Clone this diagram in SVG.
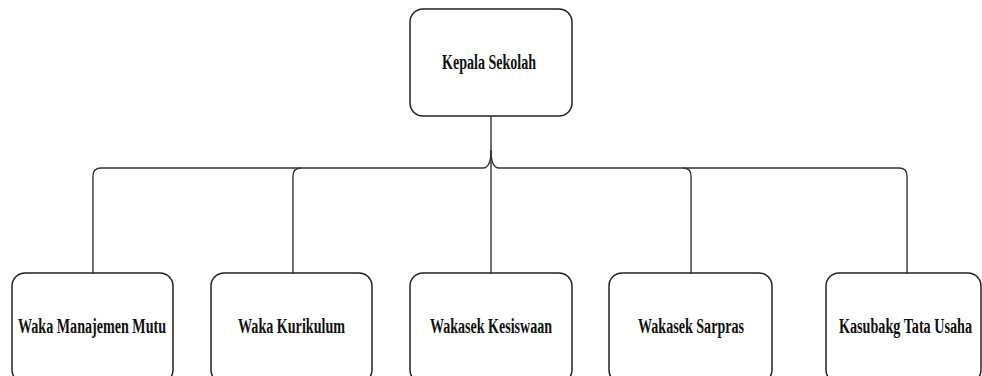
<svg xmlns="http://www.w3.org/2000/svg" width="982" height="376" viewBox="0 0 982 376">
<style>
.box{fill:#fff;stroke:#222;stroke-width:1.5}
.lbl{font-family:"Liberation Serif","Times New Roman",serif;font-weight:bold;font-size:20px;fill:#111;text-anchor:middle}
.conn path{fill:none;stroke:#333;stroke-width:1.4}
</style>
<rect width="982" height="376" fill="#fff"/>
<g class="conn" id="connectors">
<path d="M491,116 V273"/>
<path d="M491,150 Q491,168 483,168 H101 Q93,168 93,176 V273"/>
<path d="M491,150 Q491,168 499,168 H899 Q907,168 907,176 V273"/>
<path d="M293,273 V176 Q293,168 301,168"/>
<path d="M683,168 Q691,168 691,176 V273"/>
</g>
<g id="kepala">
<rect class="box" x="410" y="9" width="162" height="107" rx="13"/>
<text class="lbl" x="489" y="69" textLength="94" lengthAdjust="spacingAndGlyphs">Kepala Sekolah</text>
</g>
<g id="mutu">
<rect class="box" x="12" y="273" width="161" height="110" rx="13"/>
<text class="lbl" x="92" y="333" textLength="148" lengthAdjust="spacingAndGlyphs">Waka Manajemen Mutu</text>
</g>
<g id="kurikulum">
<rect class="box" x="211" y="273" width="161" height="110" rx="13"/>
<text class="lbl" x="291.5" y="333" textLength="107" lengthAdjust="spacingAndGlyphs">Waka Kurikulum</text>
</g>
<g id="kesiswaan">
<rect class="box" x="410" y="273" width="162" height="110" rx="13"/>
<text class="lbl" x="491" y="333" textLength="122" lengthAdjust="spacingAndGlyphs">Wakasek Kesiswaan</text>
</g>
<g id="sarpras">
<rect class="box" x="609" y="273" width="163" height="110" rx="13"/>
<text class="lbl" x="691" y="333" textLength="106" lengthAdjust="spacingAndGlyphs">Wakasek Sarpras</text>
</g>
<g id="tatausaha">
<rect class="box" x="826" y="273" width="155" height="110" rx="13"/>
<text class="lbl" x="905.5" y="333" textLength="133" lengthAdjust="spacingAndGlyphs">Kasubakg Tata Usaha</text>
</g>
</svg>
